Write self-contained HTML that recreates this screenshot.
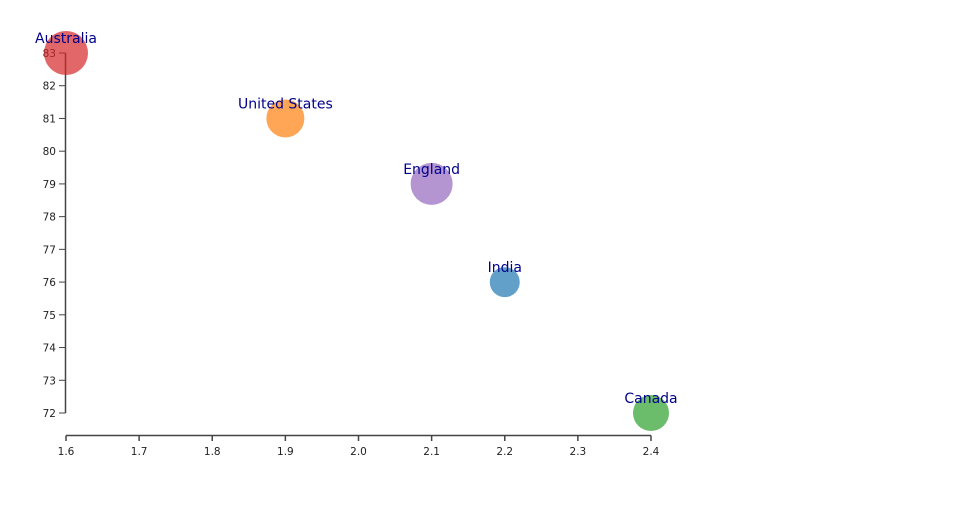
<!DOCTYPE html>
<html><head><meta charset="utf-8"><style>
body{margin:0;background:#fff;}
svg text{font-family:"DejaVu Sans","Liberation Sans",sans-serif;}
</style></head><body>
<svg id="chart" width="960" height="500" xmlns="http://www.w3.org/2000/svg"></svg>
<script>
const countries=["Australia","United States","England","India","Canada"];
const xValues=[1.6,1.9,2.1,2.2,2.4];
const yValues=[83,81,79,76,72];
const sizes=[22,19,21,15,18];
const colors=["#d62728","#ff7f0e","#9467bd","#1f77b4","#2ca02c"];
const xTicks=[1.6,1.7,1.8,1.9,2.0,2.1,2.2,2.3,2.4];
const yTicks=[72,73,74,75,76,77,78,79,80,81,82,83];
const NS="http://www.w3.org/2000/svg";
const svg=document.getElementById('chart');
const x=v=>66+(v-1.6)/0.8*585;
const y=v=>413-(v-72)/11*360;
function mk(t,a,p){const e=document.createElementNS(NS,t);for(const k in a)e.setAttribute(k,a[k]);(p||svg).appendChild(e);return e;}
const ya=mk('g',{});


mk('line',{x1:65.5,x2:65.5,y1:y(83),y2:y(72),stroke:'#444','stroke-width':1.5},ya);
yTicks.forEach(t=>{
  mk('line',{x1:59,x2:65.5,y1:y(t),y2:y(t),stroke:'#444'},ya);
  const tx=mk('text',{x:56,y:y(t)+4,'text-anchor':'end','font-size':10.5,fill:'#222'},ya);
  tx.textContent=t;
});
const xa=mk('g',{});


mk('line',{x1:x(1.6),x2:x(2.4),y1:435.5,y2:435.5,stroke:'#444','stroke-width':1.5},xa);
xTicks.forEach(t=>{
  mk('line',{x1:x(t),x2:x(t),y1:435.5,y2:441,stroke:'#444','stroke-width':1.5},xa);
  const tx=mk('text',{x:x(t),y:455,'text-anchor':'middle','font-size':10.5,fill:'#222'},xa);
  tx.textContent=t.toFixed(1);
});
countries.forEach((c,i)=>{
  const g=mk('g',{});
  
  
  mk('circle',{cx:x(xValues[i]),cy:y(yValues[i]),r:sizes[i],fill:colors[i],'fill-opacity':0.7},g);
  const t=mk('text',{x:x(xValues[i]),y:y(yValues[i])-10,'text-anchor':'middle','font-size':14,fill:'#00008b'},g);
  
  
  t.textContent=c;
});
</script>
</body></html>
